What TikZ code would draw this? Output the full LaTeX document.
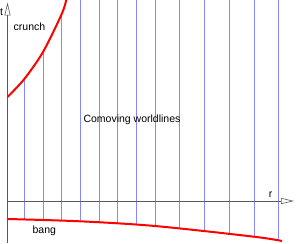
\documentclass[tikz,border=0pt]{standalone}
\usepackage{fontspec}
\setmainfont{Liberation Sans}
\usetikzlibrary{arrows.meta}
\definecolor{wline}{RGB}{135,135,255}
\definecolor{axisgray}{RGB}{90,90,90}
\tikzset{
  worldline/.style={draw=wline, line width=0.8pt},
  singular/.style={draw=red, line width=2pt},
  axisline/.style={draw=axisgray, line width=0.6pt, -{Triangle[open,length=13pt,width=6pt]}},
  lbl/.style={font=\fontsize{10.5}{12}\selectfont, inner sep=0pt, anchor=base},
}
\begin{document}
\begin{tikzpicture}[x=1pt,y=-1pt]
\useasboundingbox (0,0) rectangle (296,243);
% worldlines, clipped between crunch and bang
\begin{scope}
  \clip (7.5,97) -- plot[smooth] coordinates {(7.5,97) (24.3,79) (43,52) (61.7,14) (66.5,-1)} -- (300,-1) -- (300,250) -- (7.5,250) -- cycle;
  \clip (0,-5) -- (0,219) -- plot[smooth] coordinates {(7.5,219) (80,221.3) (155,226) (254,236.7) (282,241)} -- (300,243) -- (300,-5) -- cycle;
  \foreach \x in {24.3,43,61.5,80.3,99,117.7,136.3,155,179.7,204.3,229,254,278.3}
    \draw[worldline] (\x,-2) -- (\x,245);
\end{scope}
% axes
\coordinate (torig) at (7.5,243);
\coordinate (ttip) at (7.5,2.5);
\coordinate (rorig) at (7.5,201);
\coordinate (rtip) at (294,201);
\draw[axisline] (torig) -- (ttip);
\draw[axisline] (rorig) -- (rtip);
% crunch and bang
\draw[singular] plot[smooth] coordinates {(7.5,97) (24.3,79) (43,52) (61.7,14) (66.5,-1)};
\draw[singular] plot[smooth] coordinates {(7.5,219) (80,221.3) (155,226) (254,236.7) (282,241)};
% labels
\node[lbl] (tlab) at (1.6,16) {t};
\node[lbl] (rlab) at (270.5,197.3) {r};
\node[lbl] (crunch) at (29.5,30.5) {crunch};
\node[lbl] (bang) at (44.3,233) {bang};
\node[lbl] (comov) at (132,122.5) {Comoving worldlines};
\end{tikzpicture}
\end{document}
